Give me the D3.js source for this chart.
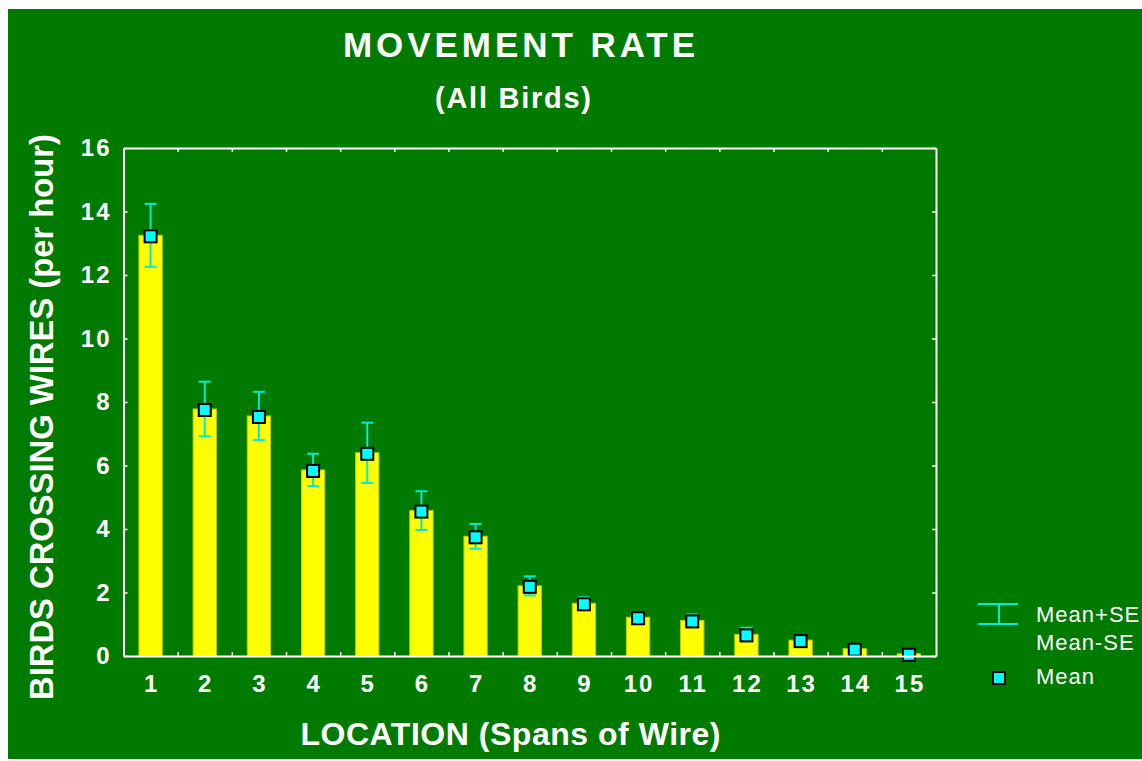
<!DOCTYPE html>
<html>
<head>
<meta charset="utf-8">
<script src="https://cdn.jsdelivr.net/npm/d3@7"></script>
<style>
  html, body { margin: 0; padding: 0; background: #fff; }
  svg { display: block; font-family: "Liberation Sans", Arial, sans-serif; }
</style>
</head>
<body>
<script>
// datos
var locations = ["1","2","3","4","5","6","7","8","9","10","11","12","13","14","15"];
var means = [13.25, 7.78, 7.56, 5.86, 6.40, 4.58, 3.77, 2.21, 1.66, 1.22, 1.12, 0.68, 0.50, 0.23, 0.07];
var se    = [0.99, 0.86, 0.76, 0.51, 0.95, 0.61, 0.39, 0.30, 0.19, 0.08, 0.19, 0.21, 0.05, 0.04, 0.02];
var yTicks = [0, 2, 4, 6, 8, 10, 12, 14, 16];

var W = 1142, H = 761;
var margin = {top: 148, right: 206, bottom: 105, left: 123.5};
var width = W - margin.left - margin.right;
var height = H - margin.top - margin.bottom;

var green = "#007b00";
var cyan = "#00ffff";
var errColor = "#00ead8";

var svg = d3.select("body").append("svg")
  .attr("width", W)
  .attr("height", H);

// fondo verde
svg.append("rect")
  .attr("x", 8).attr("y", 9)
  .attr("width", W - 8).attr("height", H - 11)
  .attr("fill", green);

var g = svg.append("g")
  .attr("transform", "translate(" + margin.left + "," + margin.top + ")");

var x = d3.scaleBand().domain(locations).range([0, width]).padding(0);
var xEdge = d3.scaleLinear().domain([0, locations.length]).range([0, width]);
var y = d3.scaleLinear().domain([0, 16]).range([height, 0]);

var barW = x.bandwidth() * 0.43;

// barras
g.selectAll(".bar")
  .data(means)
  .enter().append("rect")
  .attr("class", "bar")
  .attr("x", (d, i) => x(locations[i]) + x.bandwidth() / 2 - barW / 2)
  .attr("y", d => y(d))
  .attr("width", barW)
  .attr("height", d => height - y(d))
  .attr("fill", "#ffff00")
  .attr("stroke", "#bcd000")
  .attr("stroke-width", 1);

// barras de error
var capW = 12;
var err = g.selectAll(".err")
  .data(means)
  .enter().append("g")
  .attr("class", "err")
  .attr("transform", (d, i) => "translate(" + (x(locations[i]) + x.bandwidth() / 2) + ",0)")
  .attr("stroke", errColor)
  .attr("stroke-width", 2);
err.append("line")
  .attr("y1", (d, i) => y(d + se[i]))
  .attr("y2", (d, i) => y(d - se[i]));
err.append("line")
  .attr("x1", -capW / 2).attr("x2", capW / 2)
  .attr("y1", (d, i) => y(d + se[i])).attr("y2", (d, i) => y(d + se[i]));
err.append("line")
  .attr("x1", -capW / 2).attr("x2", capW / 2)
  .attr("y1", (d, i) => y(d - se[i])).attr("y2", (d, i) => y(d - se[i]));

// marcadores de la media
var mk = 12;
g.selectAll(".mean")
  .data(means)
  .enter().append("rect")
  .attr("class", "mean")
  .attr("x", (d, i) => x(locations[i]) + x.bandwidth() / 2 - mk / 2)
  .attr("y", d => y(d) - mk / 2 + 1)
  .attr("width", mk).attr("height", mk)
  .attr("fill", cyan)
  .attr("stroke", "#000")
  .attr("stroke-width", 2);

// ejes (marco con ticks hacia dentro)
function styleAxis(sel) {
  sel.selectAll(".domain").attr("stroke", "#fff").attr("stroke-width", 2);
  sel.selectAll(".tick line").attr("stroke", "#fff").attr("stroke-width", 1.5);
  sel.selectAll("text")
    .attr("fill", "#fff")
    .style("font-size", "24px")
    .style("font-weight", "bold")
    .style("letter-spacing", "2px");
}

var edgeTicks = d3.range(1, locations.length);

g.append("g").attr("transform", "translate(0," + height + ")")
  .call(d3.axisBottom(xEdge).tickValues(edgeTicks).tickSize(-4).tickSizeOuter(0).tickFormat(""))
  .call(styleAxis);
g.append("g")
  .call(d3.axisTop(xEdge).tickValues(edgeTicks).tickSize(-4).tickSizeOuter(0).tickFormat(""))
  .call(styleAxis);
g.append("g")
  .call(d3.axisLeft(y).tickValues(yTicks).tickSize(-4).tickSizeOuter(0).tickPadding(12))
  .call(styleAxis);
g.append("g").attr("transform", "translate(" + width + ",0)")
  .call(d3.axisRight(y).tickValues(yTicks).tickSize(-4).tickSizeOuter(0).tickFormat(""))
  .call(styleAxis);

// etiquetas del eje x (centradas en cada barra)
var xl = g.append("g").attr("transform", "translate(0," + height + ")")
  .call(d3.axisBottom(x).tickSize(0).tickPadding(19))
  .call(styleAxis);
xl.select(".domain").remove();
xl.selectAll("text").attr("dx", "1px");

// titulos
svg.append("text")
  .attr("x", 519).attr("y", 57)
  .attr("text-anchor", "middle")
  .attr("fill", "#fff")
  .style("font-size", "35px").style("font-weight", "bold")
  .attr("textLength", 352).attr("lengthAdjust", "spacing")
  .text("MOVEMENT RATE");

svg.append("text")
  .attr("x", 513).attr("y", 108)
  .attr("text-anchor", "middle")
  .attr("fill", "#fff")
  .style("font-size", "29px").style("font-weight", "bold")
  .attr("textLength", 156).attr("lengthAdjust", "spacing")
  .text("(All Birds)");

svg.append("text")
  .attr("x", 510.5).attr("y", 745)
  .attr("text-anchor", "middle")
  .attr("fill", "#fff")
  .style("font-size", "32px").style("font-weight", "bold")
  .attr("textLength", 420).attr("lengthAdjust", "spacing")
  .text("LOCATION (Spans of Wire)");

svg.append("text")
  .attr("transform", "translate(53,417) rotate(-90)")
  .attr("text-anchor", "middle")
  .attr("fill", "#fff")
  .style("font-size", "33px").style("font-weight", "bold")
  .attr("textLength", 566).attr("lengthAdjust", "spacingAndGlyphs")
  .text("BIRDS CROSSING WIRES (per hour)");

// leyenda
var leg = svg.append("g");
var lg = leg.append("g").attr("stroke", errColor).attr("stroke-width", 2);
lg.append("line").attr("x1", 978).attr("x2", 1018).attr("y1", 604).attr("y2", 604);
lg.append("line").attr("x1", 978).attr("x2", 1018).attr("y1", 624).attr("y2", 624);
lg.append("line").attr("x1", 999).attr("x2", 999).attr("y1", 604).attr("y2", 624);

leg.append("rect")
  .attr("x", 993).attr("y", 672)
  .attr("width", mk).attr("height", mk)
  .attr("fill", cyan).attr("stroke", "#000").attr("stroke-width", 2);

var legendLabels = ["Mean+SE", "Mean-SE", "Mean"];
var legendY = [621.5, 650, 684];
leg.selectAll(".ltxt")
  .data(legendLabels)
  .enter().append("text")
  .attr("class", "ltxt")
  .attr("x", 1036)
  .attr("y", (d, i) => legendY[i])
  .attr("fill", "#fff")
  .style("font-size", "22px")
  .style("letter-spacing", "1px")
  .text(d => d);
</script>
</body>
</html>
